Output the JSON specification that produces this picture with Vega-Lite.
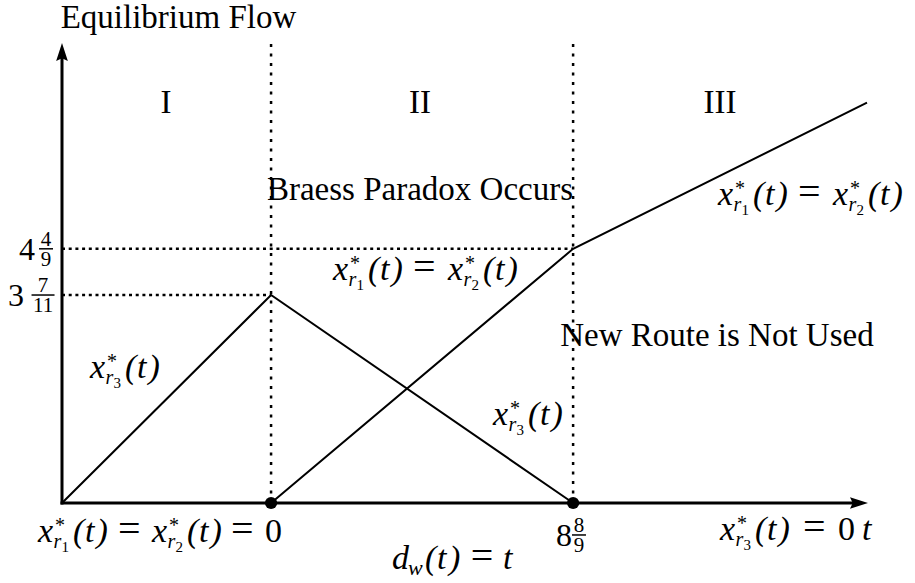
{
  "$schema": "https://vega.github.io/schema/vega-lite/v6.json",
  "width": 915,
  "height": 583,
  "autosize": {"type": "none"},
  "padding": 0,
  "background": "white",
  "config": {"view": {"stroke": null}, "font": "Liberation Serif", "text": {"font": "Liberation Serif", "color": "black"}},
  "datasets": {
    "guides": [
      {"t": 3.636, "f": 0, "t2": 3.636, "f2": 8.04},
      {"t": 8.889, "f": 0, "t2": 8.889, "f2": 8.04},
      {"t": 0, "f": 3.636, "t2": 3.636, "f2": 3.636},
      {"t": 0, "f": 4.444, "t2": 8.889, "f2": 4.444}
    ],
    "curves": [
      {"series": "r3", "t": 0, "f": 0},
      {"series": "r3", "t": 3.636, "f": 3.636},
      {"series": "r3", "t": 8.889, "f": 0},
      {"series": "r12", "t": 3.636, "f": 0},
      {"series": "r12", "t": 8.889, "f": 4.444},
      {"series": "r12", "t": 14.0, "f": 7.0}
    ],
    "axes": [
      {"t": 0, "f": 0, "t2": 13.861, "f2": 0},
      {"t": 0, "f": 0, "t2": 0, "f2": 7.885}
    ],
    "arrows": [
      {"axis": "x", "t": 13.861, "f": 0},
      {"axis": "y", "t": 0, "f": 7.885}
    ],
    "dots": [
      {"t": 3.636, "f": 0},
      {"t": 8.889, "f": 0}
    ],
    "texts": [
      {"s": "Equilibrium Flow", "t": 2.026, "f": 8.304},
      {"s": "I", "t": 1.809, "f": 6.818},
      {"s": "II", "t": 6.226, "f": 6.818},
      {"s": "III", "t": 11.443, "f": 6.818},
      {"s": "Braess Paradox Occurs", "t": 6.226, "f": 5.297},
      {"s": "New Route is Not Used", "t": 11.39, "f": 2.745}
    ],
    "groups": [
      {"k": "3", "t": 0.487, "f": 2.185},
      {"k": "3", "t": 7.496, "f": 1.364},
      {"k": "1", "t": 4.713, "f": 3.899},
      {"k": "2", "t": 6.713, "f": 3.899},
      {"k": "1", "t": 11.409, "f": 5.21},
      {"k": "2", "t": 13.409, "f": 5.21},
      {"k": "1", "t": -0.417, "f": -0.682},
      {"k": "2", "t": 1.565, "f": -0.682},
      {"k": "3", "t": 11.443, "f": -0.647}
    ],
    "syms": [
      {"s": "=", "kind": "eq", "t": 6.104, "f": 3.899},
      {"s": "=", "kind": "eq", "t": 12.8, "f": 5.21},
      {"s": "=", "kind": "eq", "t": 0.974, "f": -0.682},
      {"s": "=", "kind": "eq", "t": 2.939, "f": -0.682},
      {"s": "0", "kind": "up", "t": 3.53, "f": -0.682},
      {"s": "=", "kind": "eq", "t": 12.887, "f": -0.647},
      {"s": "0", "kind": "up", "t": 13.496, "f": -0.647},
      {"s": "t", "kind": "it", "t": 13.913, "f": -0.647},
      {"s": "d", "kind": "it", "t": 5.739, "f": -1.154},
      {"s": "w", "kind": "sub", "t": 6.017, "f": -1.154},
      {"s": "(", "kind": "it", "t": 6.313, "f": -1.154},
      {"s": "t", "kind": "it", "t": 6.522, "f": -1.154},
      {"s": ")", "kind": "it", "t": 6.73, "f": -1.154},
      {"s": "=", "kind": "eq", "t": 7.108, "f": -1.154},
      {"s": "t", "kind": "it", "t": 7.67, "f": -1.154}
    ],
    "fractions": [
      {"whole": "4", "num": "4", "den": "9", "t": -0.47, "tf": -0.278, "f": 4.444},
      {"whole": "3", "num": "7", "den": "11", "t": -0.661, "tf": -0.33, "f": 3.636},
      {"whole": "8", "num": "8", "den": "9", "t": 8.87, "tf": 8.991, "f": -0.559}
    ]
  },
  "encoding": {
    "x": {"field": "t", "type": "quantitative", "scale": {"domain": [-1.0783, 14.835], "nice": false, "zero": false}, "axis": null},
    "y": {"field": "f", "type": "quantitative", "scale": {"domain": [-1.3986, 8.7937], "nice": false, "zero": false}, "axis": null}
  },
  "layer": [
    {
      "data": {"name": "guides"},
      "transform": [{"filter": "datum.f == datum.f2"}],
      "mark": {"type": "rule", "strokeDash": [3, 3.7], "strokeWidth": 2.5, "color": "black"},
      "encoding": {"x2": {"field": "t2"}, "y2": {"field": "f2"}}
    },
    {
      "data": {"name": "guides"},
      "transform": [{"filter": "datum.t == datum.t2"}],
      "mark": {"type": "rule", "strokeDash": [3, 6.5], "strokeWidth": 2.5, "color": "black"},
      "encoding": {"x2": {"field": "t2"}, "y2": {"field": "f2"}}
    },
    {
      "data": {"name": "curves"},
      "mark": {"type": "line", "strokeWidth": 2, "color": "black"},
      "encoding": {"detail": {"field": "series"}}
    },
    {
      "data": {"name": "axes"},
      "mark": {"type": "rule", "strokeWidth": 3, "color": "black", "strokeCap": "square"},
      "encoding": {"x2": {"field": "t2"}, "y2": {"field": "f2"}}
    },
    {
      "data": {"name": "arrows"},
      "transform": [{"filter": "datum.axis == 'y'"}],
      "mark": {"type": "point", "shape": "M0,-1L0.65,1L0,0.7L-0.65,1Z", "size": 324, "filled": true, "color": "black", "opacity": 1},
      "encoding": {}
    },
    {
      "data": {"name": "arrows"},
      "transform": [{"filter": "datum.axis == 'x'"}],
      "mark": {"type": "point", "shape": "M0,-1L0.65,1L0,0.7L-0.65,1Z", "size": 324, "angle": 90, "filled": true, "color": "black", "opacity": 1},
      "encoding": {}
    },
    {
      "data": {"name": "dots"},
      "mark": {"type": "point", "shape": "circle", "size": 150, "filled": true, "color": "black", "opacity": 1},
      "encoding": {}
    },
    {
      "data": {"name": "texts"},
      "mark": {"type": "text", "font": "Liberation Serif", "fontSize": 33, "align": "center", "baseline": "alphabetic"},
      "encoding": {"text": {"field": "s"}}
    },
    {
      "data": {"name": "groups"},
      "mark": {"type": "text", "font": "Liberation Serif", "fontSize": 34, "fontStyle": "italic", "align": "left", "baseline": "alphabetic"},
      "encoding": {"text": {"value": "x"}}
    },
    {
      "data": {"name": "groups"},
      "mark": {"type": "text", "font": "Liberation Serif", "fontSize": 20, "align": "left", "baseline": "alphabetic", "dx": 17, "dy": -10},
      "encoding": {"text": {"value": "*"}}
    },
    {
      "data": {"name": "groups"},
      "mark": {"type": "text", "font": "Liberation Serif", "fontSize": 20, "fontStyle": "italic", "align": "left", "baseline": "alphabetic", "dx": 15.5, "dy": 6},
      "encoding": {"text": {"value": "r"}}
    },
    {
      "data": {"name": "groups"},
      "mark": {"type": "text", "font": "Liberation Serif", "fontSize": 15, "align": "left", "baseline": "alphabetic", "dx": 23.5, "dy": 10},
      "encoding": {"text": {"field": "k"}}
    },
    {
      "data": {"name": "groups"},
      "mark": {"type": "text", "font": "Liberation Serif", "fontSize": 34, "fontStyle": "italic", "align": "left", "baseline": "alphabetic", "dx": 35},
      "encoding": {"text": {"value": "("}}
    },
    {
      "data": {"name": "groups"},
      "mark": {"type": "text", "font": "Liberation Serif", "fontSize": 34, "fontStyle": "italic", "align": "left", "baseline": "alphabetic", "dx": 47},
      "encoding": {"text": {"value": "t"}}
    },
    {
      "data": {"name": "groups"},
      "mark": {"type": "text", "font": "Liberation Serif", "fontSize": 34, "fontStyle": "italic", "align": "left", "baseline": "alphabetic", "dx": 58.5},
      "encoding": {"text": {"value": ")"}}
    },
    {
      "data": {"name": "syms"},
      "transform": [{"filter": "datum.kind == 'eq'"}],
      "mark": {"type": "text", "font": "Liberation Serif", "fontSize": 40, "align": "left", "baseline": "alphabetic"},
      "encoding": {"text": {"field": "s"}}
    },
    {
      "data": {"name": "syms"},
      "transform": [{"filter": "datum.kind == 'up'"}],
      "mark": {"type": "text", "font": "Liberation Serif", "fontSize": 34, "align": "left", "baseline": "alphabetic"},
      "encoding": {"text": {"field": "s"}}
    },
    {
      "data": {"name": "syms"},
      "transform": [{"filter": "datum.kind == 'it'"}],
      "mark": {"type": "text", "font": "Liberation Serif", "fontSize": 34, "fontStyle": "italic", "align": "left", "baseline": "alphabetic"},
      "encoding": {"text": {"field": "s"}}
    },
    {
      "data": {"name": "syms"},
      "transform": [{"filter": "datum.kind == 'sub'"}],
      "mark": {"type": "text", "font": "Liberation Serif", "fontSize": 22, "fontStyle": "italic", "align": "left", "baseline": "alphabetic", "dy": 6},
      "encoding": {"text": {"field": "s"}}
    },
    {
      "data": {"name": "fractions"},
      "mark": {"type": "text", "font": "Liberation Serif", "fontSize": 32, "align": "right", "baseline": "alphabetic", "dy": 11},
      "encoding": {"text": {"field": "whole"}}
    },
    {
      "data": {"name": "fractions"},
      "mark": {"type": "text", "font": "Liberation Serif", "fontSize": 21, "align": "center", "baseline": "alphabetic", "dy": -3},
      "encoding": {"x": {"field": "tf", "type": "quantitative"}, "text": {"field": "num"}}
    },
    {
      "data": {"name": "fractions"},
      "mark": {"type": "text", "font": "Liberation Serif", "fontSize": 21, "align": "center", "baseline": "alphabetic", "dy": 17},
      "encoding": {"x": {"field": "tf", "type": "quantitative"}, "text": {"field": "den"}}
    },
    {
      "data": {"name": "fractions"},
      "mark": {"type": "point", "shape": "M-1,0L1,0", "filled": false, "color": "black", "strokeWidth": 1.5, "opacity": 1},
      "encoding": {
        "x": {"field": "tf", "type": "quantitative"},
        "size": {"condition": {"test": "length(datum.den) > 1", "value": 529}, "value": 196}
      }
    }
  ]
}
